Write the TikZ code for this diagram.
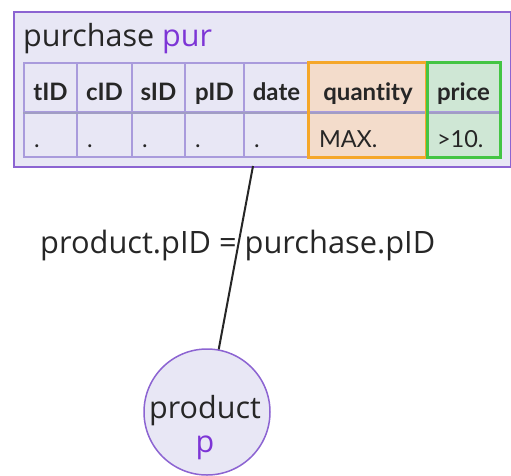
\documentclass[tikz,border=0pt]{standalone}
\usepackage{fontspec}
\setmainfont{Open Sans}
\newfontfamily\tablefont[Ligatures={NoCommon}]{Lato}

\definecolor{boxfill}{HTML}{E8E7F5}
\definecolor{boxline}{HTML}{8C64D2}
\definecolor{gridline}{HTML}{A99BDC}
\definecolor{rowline}{HTML}{A19DC4}
\definecolor{ink}{HTML}{262626}
\definecolor{purp}{HTML}{7D35D6}
\definecolor{orangeline}{HTML}{F5A72A}
\definecolor{orangefill}{HTML}{F3DCCB}
\definecolor{greenline}{HTML}{44C544}
\definecolor{greenfill}{HTML}{CFE7D5}

\tikzset{
  relbox/.style={draw=boxline, fill=boxfill, line width=2pt, inner sep=0pt},
  bigtext/.style={font=\fontsize{30.5}{36}\selectfont, text=ink, inner sep=0pt},
  hcell/.style={draw=gridline, line width=1.5pt, minimum height=49pt,
    text height=25pt, text depth=0pt, inner sep=0pt, text=ink,
    font=\tablefont\bfseries\fontsize{24}{28}\selectfont},
  dcell/.style={draw=gridline, line width=1.5pt, minimum height=45pt,
    text height=25pt, text depth=0pt, inner xsep=10pt, inner ysep=0pt,
    align=left, text=ink, font=\tablefont\fontsize{23.5}{28}\selectfont},
  hilite/.style={line width=3pt},
  joinline/.style={draw=ink, line width=2pt},
  tablenode/.style={circle, draw=boxline, fill=boxfill, line width=1.5pt,
    minimum size=126pt, inner sep=0pt}
}

\begin{document}
\begin{tikzpicture}[x=1pt, y=-1pt]
\useasboundingbox (0,0) rectangle (511,475);

% relation box for purchase
\node[relbox, minimum width=497pt, minimum height=155pt, anchor=north west]
  (pur) at (13,11) {};
\node[bigtext, anchor=base west] (purtitle) at (23,46)
  {purchase \textcolor{purp}{pur}};

% attribute table: header row and one value row
\foreach \i/\l/\r/\hd/\dt/\fc in {
    1/24/77/tID/./boxfill,
    2/77/132/cID/./boxfill,
    3/132/185/sID/./boxfill,
    4/185/244/pID/./boxfill,
    5/244/309/date/./boxfill,
    6/309/427/quantity/MAX./orangefill,
    7/427/500/price/{>10.}/greenfill} {
  \node[hcell, fill=\fc, minimum width={(\r-\l)*1pt}]
    (h-\i) at ({(\l+\r)/2},87.5) {\hd};
  \node[dcell, fill=\fc, text width={(\r-\l-20)*1pt}]
    (d-\i) at ({(\l+\r)/2},134.5) {\dt};
}
% line between the header row and the value row
\draw[draw=rowline, line width=1.5pt] (h-1.south west) -- (h-7.south east);

% highlighted columns
\draw[hilite, draw=orangeline] (h-6.north west) rectangle ([xshift=-1.5pt]d-6.south east);
\draw[hilite, draw=greenline] ([xshift=1.5pt]h-7.north west) rectangle (d-7.south east);

% product relation
\node[tablenode] (prod) at (207,412) {};
\node[bigtext, anchor=base] (prodname) at (205,418) {product};
\node[bigtext, anchor=base, text=purp] (prodvar) at (205,452) {p};

% join condition
\coordinate (joinstart) at (253,166);
\draw[joinline] (joinstart) -- (prod);
\node[bigtext, anchor=base west, font=\fontsize{30.8}{36}\selectfont] (joincond)
  at (40,253) {product.pID = purchase.pID};
\end{tikzpicture}
\end{document}
